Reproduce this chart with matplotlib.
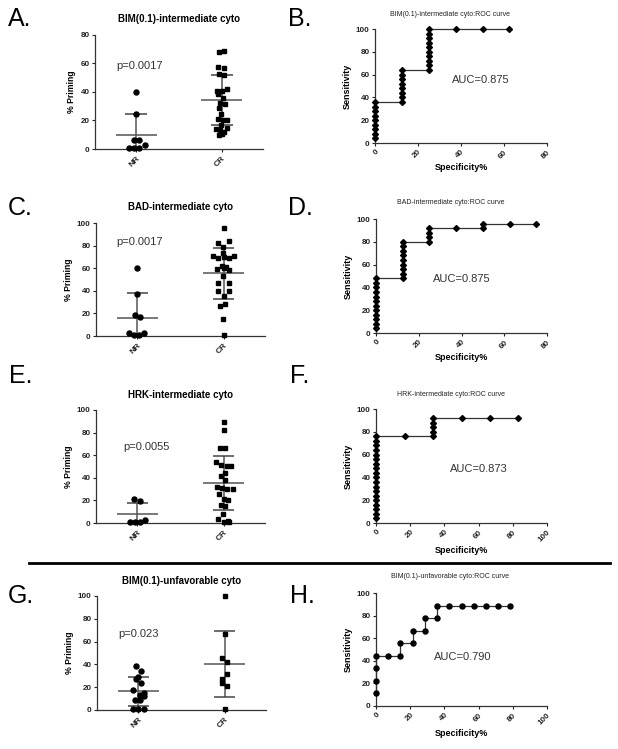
import matplotlib
matplotlib.use('Agg')
import matplotlib.pyplot as plt
import numpy as np

plt.rcParams['font.family'] = ['Liberation Sans', 'DejaVu Sans']

W, H = 618, 749

groups = ['NR', 'CR']

# ---- scatter panels (% priming) ----
a_nr = [40, 24.5, 6.5, 6.5, 3, 0.5, 0.5, 0.5]
a_nr_dx = [0, 0, -0.03, 0.03, 0.1, -0.085, -0.03, 0.03]
a_cr = [68, 68.5, 57.5, 57, 52.5, 52, 42, 41, 40.5, 38.5, 35.5, 32, 31.5,
        28.5, 24.5, 21, 20.5, 20, 17, 15, 14, 13.5, 12, 9.5, 10.5]
a_cr_dx = [-0.03, 0.025, -0.04, 0.025, -0.03, 0.025, 0.055, -0.055, 0.0, -0.045, 0.01,
           -0.025, 0.04, -0.035, -0.01, -0.04, 0.01, 0.06, -0.01, 0.055, -0.07,
           -0.025, 0.02, -0.03, 0.005]
a_mean = [9.8, 34.2]
a_sd = [14.8, 17.6]

c_nr = [60, 37, 18.5, 16.5, 2.5, 0.5, 0.5, 3]
c_nr_dx = [0, 0, -0.025, 0.03, -0.1, -0.04, 0.02, 0.08]
c_cr = [95.5, 84.5, 82, 78.5, 73.5, 71, 69, 69.5, 69, 71, 62, 61, 59, 58, 60.5,
        53, 47, 47, 40, 40, 35, 28, 26.5, 15, 0.5]
c_cr_dx = [0, 0.06, -0.06, -0.005, -0.01, -0.125, -0.06, 0, 0.06, 0.12, -0.02, 0.03,
           -0.08, 0.06, 0.0, -0.01, -0.06, 0.06, -0.06, 0.06, 0.0, 0.02, -0.04, -0.01, 0]
c_mean = [16.2, 55.5]
c_sd = [22.0, 22.6]

e_nr = [21, 19.5, 1, 0.5, 1, 3]
e_nr_dx = [-0.04, 0.03, -0.09, -0.03, 0.03, 0.09]
e_cr = [89.5, 82.5, 66.5, 66.5, 54, 51, 50.5, 50.5, 44, 41.5, 38, 31.5, 31, 30,
        30.5, 26, 21, 20.5, 16, 15, 8, 3.5, 2, 0.5, 0.5]
e_cr_dx = [0, 0, -0.04, 0.02, -0.09, -0.03, 0.035, 0.09, 0.02, -0.03, 0.02, -0.075,
           -0.02, 0.04, 0.11, -0.05, 0.0, 0.05, -0.03, 0.02, -0.01, -0.06, 0.05, 0.0, 0.06]
e_mean = [8.0, 35.4]
e_sd = [9.4, 24.0]

g_nr = [38.5, 34, 29, 27.5, 24, 17.5, 15, 13.5, 12.5, 8.5, 8.5, 0.5, 0.5, 0.5]
g_nr_dx = [-0.027, 0.03, 0, -0.027, 0.03, -0.06, 0.066, 0.02, 0.066, -0.04, 0.02,
           -0.066, 0, 0.066]
g_cr = [100, 67, 45.5, 42, 31.5, 27, 24, 21, 0.5]
g_cr_dx = [0, 0, -0.027, 0.023, 0.023, -0.027, -0.027, 0.03, 0]
g_mean = [16.4, 40.0]
g_sd = [12.6, 29.0]

# ---- ROC curves ----
b_spec = [0, 0, 0, 0, 0, 0, 0, 0, 0,
          12.5, 12.5, 12.5, 12.5, 12.5, 12.5, 12.5, 12.5,
          25, 25, 25, 25, 25, 25, 25, 25, 25, 25,
          37.5, 50, 62.5]
b_sens = [4, 8, 12, 16, 20, 24, 28, 32, 36,
          36, 40, 44, 48, 52, 56, 60, 64,
          64, 68, 72, 76, 80, 84, 88, 92, 96, 100,
          100, 100, 100]

d_spec = [0, 0, 0, 0, 0, 0, 0, 0, 0, 0, 0, 0,
          12.5, 12.5, 12.5, 12.5, 12.5, 12.5, 12.5, 12.5, 12.5,
          25, 25, 25, 25, 37.5, 50, 50, 62.5, 75]
d_sens = [4, 8, 12, 16, 20, 24, 28, 32, 36, 40, 44, 48,
          48, 52, 56, 60, 64, 68, 72, 76, 80,
          80, 84, 88, 92, 92, 92, 96, 96, 96]

f_spec = [0, 0, 0, 0, 0, 0, 0, 0, 0, 0, 0, 0, 0, 0, 0, 0, 0, 0, 0,
          16.67, 33.33, 33.33, 33.33, 33.33, 33.33, 50, 66.67, 83.33]
f_sens = [4, 8, 12, 16, 20, 24, 28, 32, 36, 40, 44, 48, 52, 56, 60, 64, 68, 72, 76,
          76, 76, 80, 84, 88, 92, 92, 92, 92]

h_spec = [0, 0, 0, 0, 7.14, 14.29, 14.29, 21.43, 21.43, 28.57, 28.57, 35.71, 35.71,
          42.86, 50, 57.14, 64.29, 71.43, 78.57]
h_sens = [11.1, 22.2, 33.3, 44.4, 44.4, 44.4, 55.6, 55.6, 66.7, 66.7, 77.8, 77.8, 88.9,
          88.9, 88.9, 88.9, 88.9, 88.9, 88.9]


def box(x0, y0, x1, y1):
    # pixel box (left, top, right, bottom) -> figure fraction
    return [x0 / W, 1 - y1 / H, (x1 - x0) / W, (y1 - y0) / H]


def style(ax):
    ax.spines['top'].set_visible(False)
    ax.spines['right'].set_visible(False)
    for s in ['left', 'bottom']:
        ax.spines[s].set_linewidth(0.9)
        ax.spines[s].set_color('#333')
    ax.tick_params(length=2.5, width=0.8, pad=1.5, colors='#222')


def scatter_panel(ax, nr, nr_dx, cr, cr_dx, mean, sd, ymax, title, ptext, px, py):
    ax.plot(np.array(nr_dx), nr, 'o', ms=3.6, color='k', clip_on=False, zorder=3)
    ax.plot(np.array(cr_dx) + 1, cr, 's', ms=3.5, color='k', clip_on=False, zorder=3)
    for i in range(2):
        ax.hlines(mean[i], i - 0.24, i + 0.24, color='#555', lw=1.1)
        ax.vlines(i, mean[i] - sd[i], mean[i] + sd[i], color='#555', lw=1.1)
        ax.hlines([mean[i] - sd[i], mean[i] + sd[i]], i - 0.125, i + 0.125, color='#444', lw=1.1)
    ax.set_xlim(-0.48, 1.48)
    ax.set_ylim(0, ymax)
    ax.set_yticks(range(0, ymax + 1, 20))
    ax.set_xticks([0, 1])
    ax.set_xticklabels(groups, rotation=45, ha='right', rotation_mode='anchor',
                       fontweight='bold', fontsize=6)
    plt.setp(ax.get_yticklabels(), fontweight='bold', fontsize=5.8)
    ax.set_ylabel('% Priming', fontweight='bold', fontsize=6.2, labelpad=3)
    ax.set_title(title, fontweight='bold', fontsize=7, pad=9)
    ax.text(px, py, ptext, fontsize=8, color='#333', ha='center', va='center')
    style(ax)


def roc_panel(ax, spec, sens, xmax, marker, ms, title, tx, ty, auc, ax_x, ax_y):
    ax.plot(spec, sens, '-', color='#333', lw=0.9, marker=marker, ms=ms,
            mfc='k', mec='k', clip_on=False, zorder=3)
    ax.set_xlim(0, xmax)
    ax.set_ylim(0, 100)
    ax.set_xticks(range(0, xmax + 1, 20))
    ax.set_yticks(range(0, 101, 20))
    plt.setp(ax.get_xticklabels(), fontweight='bold', fontsize=5.8, rotation=45,
             ha='right', rotation_mode='anchor')
    plt.setp(ax.get_yticklabels(), fontweight='bold', fontsize=5.8)
    ax.set_xlabel('Specificity%', fontweight='bold', fontsize=6.5, labelpad=2)
    ax.set_ylabel('Sensitivity', fontweight='bold', fontsize=6.5, labelpad=3)
    ax.text(ax_x, ax_y, auc, fontsize=8, color='#333', ha='center', va='center')
    fig.text(tx / W, 1 - ty / H, title, fontsize=5, ha='center', va='center', color='#222')
    style(ax)


fig = plt.figure(figsize=(6.18, 7.49), dpi=100)

axA = fig.add_axes(box(95, 35, 263, 149))
scatter_panel(axA, a_nr, a_nr_dx, a_cr, a_cr_dx, a_mean, a_sd, 80,
              'BIM(0.1)-intermediate cyto', 'p=0.0017', 0.04, 58)
axC = fig.add_axes(box(96, 223, 265, 336))
scatter_panel(axC, c_nr, c_nr_dx, c_cr, c_cr_dx, c_mean, c_sd, 100,
              'BAD-intermediate cyto', 'p=0.0017', 0.03, 83)
axE = fig.add_axes(box(96, 410, 265, 523))
scatter_panel(axE, e_nr, e_nr_dx, e_cr, e_cr_dx, e_mean, e_sd, 100,
              'HRK-intermediate cyto', 'p=0.0055', 0.1, 67)
axG = fig.add_axes(box(97, 596, 266, 710))
scatter_panel(axG, g_nr, g_nr_dx, g_cr, g_cr_dx, g_mean, g_sd, 100,
              'BIM(0.1)-unfavorable cyto', 'p=0.023', 0.0, 67)

axB = fig.add_axes(box(375, 29, 547, 143))
roc_panel(axB, b_spec, b_sens, 80, 'D', 3.0, 'BIM(0.1)-intermediate cyto:ROC curve',
          450, 15, 'AUC=0.875', 49, 55)
axD = fig.add_axes(box(376, 219, 547, 333))
roc_panel(axD, d_spec, d_sens, 80, 'D', 3.0, 'BAD-intermediate cyto:ROC curve',
          451, 203, 'AUC=0.875', 40, 47)
axF = fig.add_axes(box(376, 409, 547, 523))
roc_panel(axF, f_spec, f_sens, 100, 'D', 3.0, 'HRK-intermediate cyto:ROC curve',
          451, 394, 'AUC=0.873', 60, 47)
axH = fig.add_axes(box(376, 593, 547, 706))
roc_panel(axH, h_spec, h_sens, 100, 'o', 3.6, 'BIM(0.1)-unfavorable cyto:ROC curve',
          450, 577, 'AUC=0.790', 51, 43)

# panel letters
letters = ['A.', 'B.', 'C.', 'D.', 'E.', 'F.', 'G.', 'H.']
lx = [8, 288, 8, 288, 9, 290, 8, 290]
ly = [19, 19, 208, 208, 376, 376, 596, 596]
for t, x, y in zip(letters, lx, ly):
    fig.text(x / W, 1 - y / H, t, fontsize=18, ha='left', va='center')

# separator line
fig.add_artist(plt.Line2D([29 / W, 610 / W], [1 - 563 / H, 1 - 563 / H], color='k', lw=2))

fig.savefig('out.png', dpi=100)
